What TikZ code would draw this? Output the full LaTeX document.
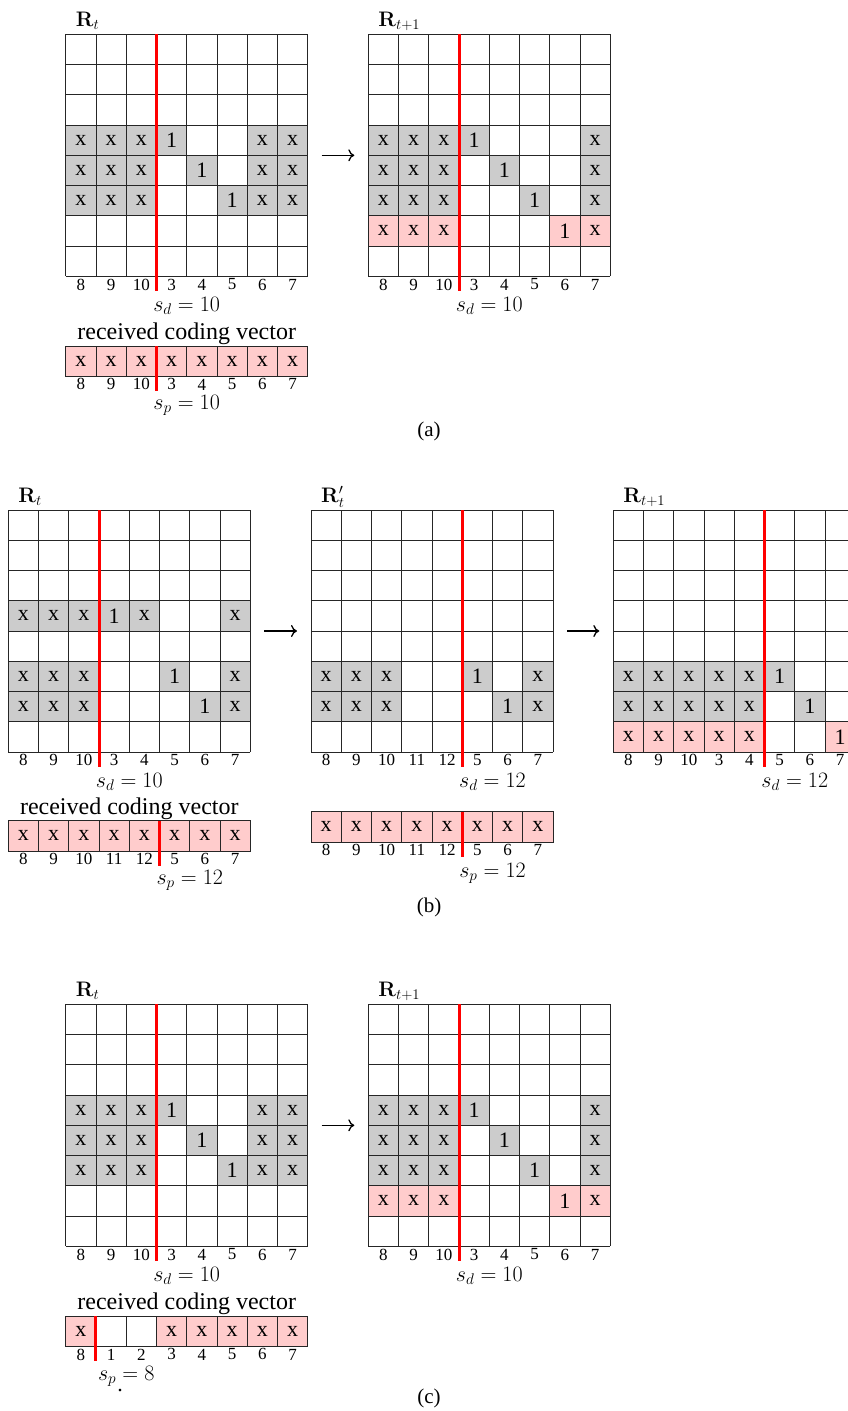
\RequirePackage{fix-cm}
\documentclass[tikz,border=0pt]{standalone}
\usepackage[no-math]{fontspec}
\setmainfont{Liberation Serif}
\definecolor{cellgray}{RGB}{204, 204, 204}
\definecolor{cellpink}{RGB}{255, 204, 204}
\definecolor{cutred}{RGB}{255, 0, 0}
\usetikzlibrary{arrows.meta, calc}
\tikzset{
	gridline/.style={line width=0.8pt, draw=black!85},
	oldcell/.style={rectangle, draw=black!85, fill=cellgray, line width=0.8pt, minimum size=30.25pt, inner sep=0pt, font=\fontsize{22}{24}\selectfont},
	newcell/.style={oldcell, fill=cellpink},
	colnum/.style={inner sep=0pt, font=\fontsize{17}{19}\selectfont},
	cutline/.style={draw=cutred, line width=3pt},
	title/.style={inner sep=0pt, anchor=base west, font=\fontsize{21}{24}\selectfont},
	caption/.style={inner sep=0pt, anchor=base, font=\fontsize{22}{24}\selectfont},
	vectext/.style={inner sep=0pt, anchor=base, font=\fontsize{24}{26}\selectfont},
	sublabel/.style={inner sep=0pt, anchor=base, font=\fontsize{21}{24}\selectfont},
	steparrow/.style={-{To[length=6pt, width=12pt]}, line width=1.3pt, shorten <=14pt, shorten >=14pt},
}
\begin{document}
\begin{tikzpicture}
	\useasboundingbox (0,0) rectangle (848pt,-1411pt);
	% (a) and (c): same pair of matrices
	\foreach \sub/\gy in {a/34.3, c/1004.3} {
		\begin{scope}[shift={(65.7pt,-\gy pt)}, x=30.25pt, y=-30.25pt]
			\foreach \i in {0,...,8} {
				\draw[gridline] (\i,0) -- (\i,8);
				\draw[gridline] (0,\i) -- (8,\i);
			}
			\foreach \row/\col/\txt in {4/1/x,4/2/x,4/3/x,4/4/1,4/7/x,4/8/x,5/1/x,5/2/x,5/3/x,5/5/1,5/7/x,5/8/x,6/1/x,6/2/x,6/3/x,6/6/1,6/7/x,6/8/x}
				\node[oldcell] (\sub Rt-\row-\col) at (\col-0.5,\row-0.5) {\txt};
			\foreach \col/\num in {1/8,2/9,3/10,4/3,5/4,6/5,7/6,8/7}
				\node[colnum] (\sub Rt-n\col) at (\col-0.5,8.27) {\num};
			\draw[cutline] (3,0) -- (3,8.5);
			\node[title] (\sub Rt-name) at (0.33,-0.26) {$\mathbf{R}_t$};
			\node[caption] (\sub Rt-sd) at (4,9.16) {$s_d = 10$};
			\coordinate (\sub Rt-e) at (8,4);
		\end{scope}
		\begin{scope}[shift={(368.3pt,-\gy pt)}, x=30.25pt, y=-30.25pt]
			\foreach \i in {0,...,8} {
				\draw[gridline] (\i,0) -- (\i,8);
				\draw[gridline] (0,\i) -- (8,\i);
			}
			\foreach \row/\col/\txt in {4/1/x,4/2/x,4/3/x,4/4/1,4/8/x,5/1/x,5/2/x,5/3/x,5/5/1,5/8/x,6/1/x,6/2/x,6/3/x,6/6/1,6/8/x}
				\node[oldcell] (\sub Rn-\row-\col) at (\col-0.5,\row-0.5) {\txt};
			\foreach \row/\col/\txt in {7/1/x,7/2/x,7/3/x,7/7/1,7/8/x}
				\node[newcell] (\sub Rn-\row-\col) at (\col-0.5,\row-0.5) {\txt};
			\foreach \col/\num in {1/8,2/9,3/10,4/3,5/4,6/5,7/6,8/7}
				\node[colnum] (\sub Rn-n\col) at (\col-0.5,8.27) {\num};
			\draw[cutline] (3,0) -- (3,8.5);
			\node[title] (\sub Rn-name) at (0.33,-0.26) {$\mathbf{R}_{t+1}$};
			\node[caption] (\sub Rn-sd) at (4,9.16) {$s_d = 10$};
			\coordinate (\sub Rn-w) at (0,4);
		\end{scope}
		\draw[steparrow] (\sub Rt-e) -- (\sub Rn-w);
	}
	% (a) received vector
	\begin{scope}[shift={(65.7pt,-346pt)}, x=30.25pt, y=-30.25pt]
		\draw[gridline] (0,0) -- (8,0);
		\draw[gridline] (0,1) -- (8,1);
		\foreach \col in {1,...,8}
			\node[newcell] (aV-\col) at (\col-0.5,0.5) {x};
		\foreach \col/\num in {1/8,2/9,3/10,4/3,5/4,6/5,7/6,8/7}
			\node[colnum] (aV-n\col) at (\col-0.5,1.27) {\num};
		\draw[cutline] (3,0) -- (3,1.49);
		\node[vectext] (aV-name) at (4,-0.22) {received coding vector};
		\node[caption] (aV-sp) at (4,2.1) {$s_p = 10$};
	\end{scope}
	\node[sublabel] (capa) at (429pt,-436.7pt) {(a)};
	% (b)
	\begin{scope}[shift={(8.3pt,-510pt)}, x=30.25pt, y=-30.25pt]
		\foreach \i in {0,...,8} {
			\draw[gridline] (\i,0) -- (\i,8);
			\draw[gridline] (0,\i) -- (8,\i);
		}
		\foreach \row/\col/\txt in {4/1/x,4/2/x,4/3/x,4/4/1,4/5/x,4/8/x,6/1/x,6/2/x,6/3/x,6/6/1,6/8/x,7/1/x,7/2/x,7/3/x,7/7/1,7/8/x}
			\node[oldcell] (bRt-\row-\col) at (\col-0.5,\row-0.5) {\txt};
		\foreach \col/\num in {1/8,2/9,3/10,4/3,5/4,6/5,7/6,8/7}
			\node[colnum] (bRt-n\col) at (\col-0.5,8.27) {\num};
		\draw[cutline] (3,0) -- (3,8.5);
		\node[title] (bRt-name) at (0.33,-0.26) {$\mathbf{R}_t$};
		\node[caption] (bRt-sd) at (4,9.16) {$s_d = 10$};
		\coordinate (bRt-e) at (8,4);
	\end{scope}
	\begin{scope}[shift={(8.3pt,-820.7pt)}, x=30.25pt, y=-30.25pt]
		\draw[gridline] (0,0) -- (8,0);
		\draw[gridline] (0,1) -- (8,1);
		\foreach \col in {1,...,8}
			\node[newcell] (bV-\col) at (\col-0.5,0.5) {x};
		\foreach \col/\num in {1/8,2/9,3/10,4/11,5/12,6/5,7/6,8/7}
			\node[colnum] (bV-n\col) at (\col-0.5,1.27) {\num};
		\draw[cutline] (5,0) -- (5,1.49);
		\node[vectext] (bV-name) at (4,-0.22) {received coding vector};
		\node[caption] (bV-sp) at (6,2.10) {$s_p = 12$};
	\end{scope}
	\begin{scope}[shift={(311pt,-510pt)}, x=30.25pt, y=-30.25pt]
		\foreach \i in {0,...,8} {
			\draw[gridline] (\i,0) -- (\i,8);
			\draw[gridline] (0,\i) -- (8,\i);
		}
		\foreach \row/\col/\txt in {6/1/x,6/2/x,6/3/x,6/6/1,6/8/x,7/1/x,7/2/x,7/3/x,7/7/1,7/8/x}
			\node[oldcell] (bRp-\row-\col) at (\col-0.5,\row-0.5) {\txt};
		\foreach \col/\num in {1/8,2/9,3/10,4/11,5/12,6/5,7/6,8/7}
			\node[colnum] (bRp-n\col) at (\col-0.5,8.27) {\num};
		\draw[cutline] (5,0) -- (5,8.5);
		\node[title] (bRp-name) at (0.33,-0.26) {$\mathbf{R}'_t$};
		\node[caption] (bRp-sd) at (6,9.16) {$s_d = 12$};
		\coordinate (bRp-w) at (0,4);
		\coordinate (bRp-e) at (8,4);
	\end{scope}
	\begin{scope}[shift={(311pt,-811.7pt)}, x=30.25pt, y=-30.25pt]
		\draw[gridline] (0,0) -- (8,0);
		\draw[gridline] (0,1) -- (8,1);
		\foreach \col in {1,...,8}
			\node[newcell] (bW-\col) at (\col-0.5,0.5) {x};
		\foreach \col/\num in {1/8,2/9,3/10,4/11,5/12,6/5,7/6,8/7}
			\node[colnum] (bW-n\col) at (\col-0.5,1.27) {\num};
		\draw[cutline] (5,0) -- (5,1.49);
		\node[caption] (bW-sp) at (6,2.16) {$s_p = 12$};
	\end{scope}
	\begin{scope}[shift={(613.3pt,-510pt)}, x=30.25pt, y=-30.25pt]
		\foreach \i in {0,...,8} {
			\draw[gridline] (\i,0) -- (\i,8);
			\draw[gridline] (0,\i) -- (8,\i);
		}
		\foreach \row/\col/\txt in {6/1/x,6/2/x,6/3/x,6/4/x,6/5/x,6/6/1,7/1/x,7/2/x,7/3/x,7/4/x,7/5/x,7/7/1}
			\node[oldcell] (bRn-\row-\col) at (\col-0.5,\row-0.5) {\txt};
		\foreach \row/\col/\txt in {8/1/x,8/2/x,8/3/x,8/4/x,8/5/x,8/8/1}
			\node[newcell] (bRn-\row-\col) at (\col-0.5,\row-0.5) {\txt};
		\foreach \col/\num in {1/8,2/9,3/10,4/3,5/4,6/5,7/6,8/7}
			\node[colnum] (bRn-n\col) at (\col-0.5,8.27) {\num};
		\draw[cutline] (5,0) -- (5,8.5);
		\node[title] (bRn-name) at (0.33,-0.26) {$\mathbf{R}_{t+1}$};
		\node[caption] (bRn-sd) at (6,9.16) {$s_d = 12$};
		\coordinate (bRn-w) at (0,4);
	\end{scope}
	\draw[steparrow] (bRt-e) -- (bRp-w);
	\draw[steparrow] (bRp-e) -- (bRn-w);
	\node[sublabel] (capb) at (429pt,-912.7pt) {(b)};
	% (c) received vector
	\begin{scope}[shift={(65.7pt,-1316pt)}, x=30.25pt, y=-30.25pt]
		\draw[gridline] (0,0) -- (8,0);
		\draw[gridline] (0,1) -- (8,1);
		\foreach \i in {0,...,8}
			\draw[gridline] (\i,0) -- (\i,1);
		\foreach \col in {1,4,5,6,7,8}
			\node[newcell] (cV-\col) at (\col-0.5,0.5) {x};
		\foreach \col/\num in {1/8,2/1,3/2,4/3,5/4,6/5,7/6,8/7}
			\node[colnum] (cV-n\col) at (\col-0.5,1.27) {\num};
		\draw[cutline] (1,0) -- (1,1.49);
		\node[vectext] (cV-name) at (4,-0.22) {received coding vector};
		\node[caption] (cV-sp) at (2,2.12) {$s_p = 8$};
		\node[caption] (cV-dot) at (1.8,2.5) {.};
	\end{scope}
	\node[sublabel] (capc) at (429pt,-1403.7pt) {(c)};
\end{tikzpicture}
\end{document}
